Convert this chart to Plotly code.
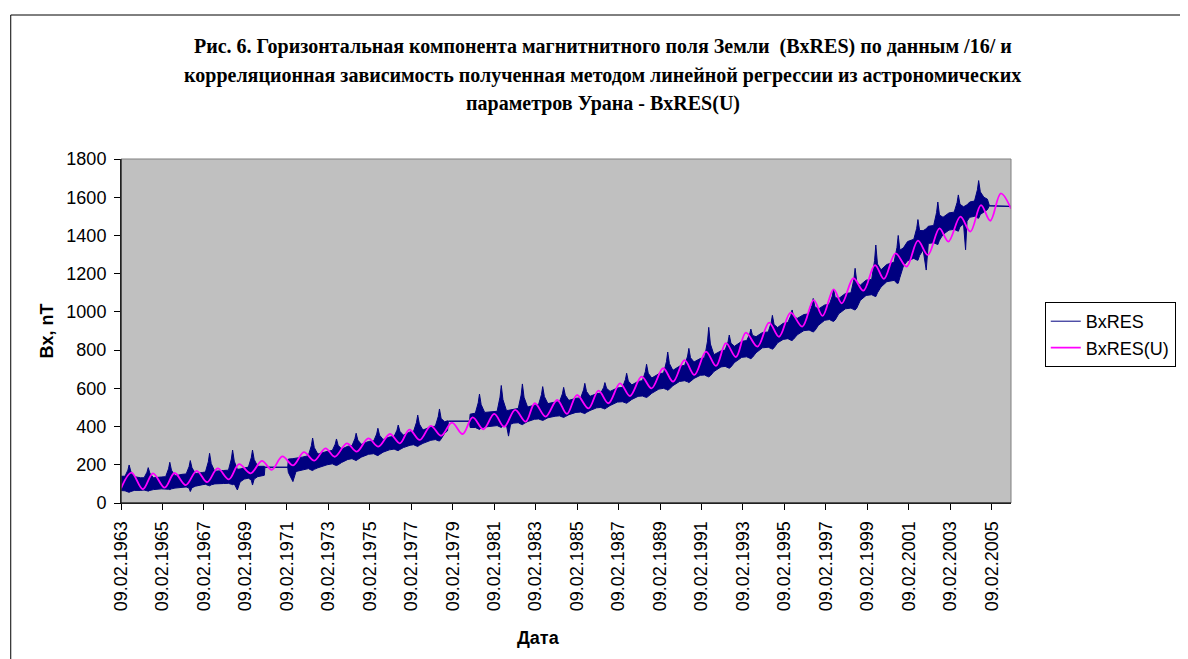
import pandas as pd
import plotly.graph_objects as go

# ---------------- data ----------------
# BxRES: upper / lower edge of the dense daily trace (decimal years, nT)
bx_years = [
    1963.11, 1963.30, 1963.44, 1963.50, 1963.58, 1963.75,
    1964.05, 1964.22, 1964.36, 1964.42, 1964.50, 1964.67,
    1965.05, 1965.26, 1965.40, 1965.46, 1965.54, 1965.71,
    1966.05, 1966.25, 1966.39, 1966.45, 1966.53, 1966.70,
    1967.05, 1967.18, 1967.32, 1967.38, 1967.46, 1967.63,
    1968.05, 1968.29, 1968.43, 1968.49, 1968.57, 1968.72, 1968.85,
    1969.05, 1969.25, 1969.39, 1969.45, 1969.53, 1969.70,
    1970.02, 1970.05, 1971.15,
    1971.18, 1971.40, 1971.55, 1971.85,
    1972.05, 1972.15, 1972.29, 1972.35, 1972.43, 1972.60,
    1973.05, 1973.30, 1973.44, 1973.50, 1973.58, 1973.75,
    1974.05, 1974.25, 1974.39, 1974.45, 1974.53, 1974.70,
    1975.05, 1975.30, 1975.44, 1975.50, 1975.58, 1975.75,
    1976.05, 1976.28, 1976.42, 1976.48, 1976.56, 1976.73,
    1977.05, 1977.22, 1977.36, 1977.42, 1977.50, 1977.67,
    1978.05, 1978.27, 1978.41, 1978.47, 1978.55, 1978.72, 1978.86, 1978.90, 1979.92,
    1979.95, 1980.20, 1980.34, 1980.40, 1980.48, 1980.65, 1980.85,
    1981.05, 1981.25, 1981.39, 1981.45, 1981.53, 1981.70, 1981.80, 1981.90,
    1982.05, 1982.27, 1982.41, 1982.47, 1982.55, 1982.72,
    1983.05, 1983.25, 1983.39, 1983.45, 1983.53, 1983.70,
    1984.05, 1984.26, 1984.40, 1984.46, 1984.54, 1984.71,
    1985.05, 1985.28, 1985.42, 1985.48, 1985.56, 1985.73,
    1986.05, 1986.25, 1986.39, 1986.45, 1986.53, 1986.70,
    1987.05, 1987.30, 1987.44, 1987.50, 1987.58, 1987.75,
    1988.05, 1988.26, 1988.40, 1988.46, 1988.54, 1988.71,
    1989.05, 1989.28, 1989.42, 1989.48, 1989.56, 1989.73,
    1990.05, 1990.30, 1990.44, 1990.50, 1990.58, 1990.75,
    1991.05, 1991.26, 1991.40, 1991.46, 1991.54, 1991.71,
    1992.05, 1992.25, 1992.39, 1992.45, 1992.53, 1992.70,
    1993.05, 1993.29, 1993.43, 1993.49, 1993.57, 1993.74,
    1994.05, 1994.33, 1994.47, 1994.53, 1994.61, 1994.78,
    1995.05, 1995.28, 1995.42, 1995.48, 1995.56, 1995.73,
    1996.05, 1996.30, 1996.44, 1996.50, 1996.58, 1996.75,
    1997.05, 1997.28, 1997.42, 1997.48, 1997.56, 1997.73,
    1998.05, 1998.32, 1998.46, 1998.52, 1998.60, 1998.77,
    1999.05, 1999.32, 1999.46, 1999.52, 1999.60, 1999.77,
    2000.05, 2000.40, 2000.54, 2000.60, 2000.68, 2000.85,
    2001.05, 2001.35, 2001.49, 2001.55, 2001.63, 2001.80, 2001.95,
    2002.05, 2002.31, 2002.45, 2002.51, 2002.59, 2002.76,
    2003.05, 2003.30, 2003.44, 2003.50, 2003.58, 2003.75, 2003.85, 2003.92,
    2004.05, 2004.28, 2004.42, 2004.48, 2004.56, 2004.73, 2004.90, 2004.97, 2005.00, 2006.04,
]
bx_upper = [
    140, 140, 172, 199, 166, 138,
    132, 132, 161, 185, 156, 132,
    136, 138, 179, 213, 172, 142,
    150, 152, 190, 222, 184, 154,
    160, 162, 216, 260, 206, 166,
    170, 172, 230, 277, 219, 176, 178,
    185, 188, 237, 277, 228, 192,
    192, 187, 187,
    230, 232, 234, 240,
    245, 250, 300, 340, 290, 256,
    270, 275, 308, 335, 302, 282,
    297, 300, 336, 365, 329, 307,
    322, 325, 361, 391, 355, 332,
    345, 348, 381, 408, 375, 355,
    372, 375, 422, 460, 413, 382,
    398, 402, 452, 492, 442, 425, 430, 428, 428,
    465, 470, 525, 570, 515, 474, 476,
    478, 480, 554, 615, 541, 484, 485, 488,
    492, 495, 565, 623, 553, 502,
    512, 515, 567, 609, 557, 520,
    528, 530, 571, 605, 564, 537,
    548, 550, 592, 626, 584, 558,
    572, 575, 605, 630, 600, 584,
    602, 605, 646, 679, 638, 618,
    636, 640, 687, 726, 679, 654,
    676, 680, 740, 790, 730, 694,
    716, 720, 769, 809, 760, 738,
    756, 760, 847, 919, 832, 776,
    796, 800, 843, 879, 836, 820,
    846, 850, 883, 910, 877, 870,
    892, 895, 943, 982, 934, 918,
    940, 945, 981, 1010, 974, 966,
    986, 990, 1034, 1070, 1026, 1015,
    1036, 1040, 1083, 1118, 1075, 1070,
    1096, 1100, 1170, 1228, 1158, 1140,
    1166, 1170, 1269, 1350, 1251, 1220,
    1248, 1260, 1337, 1400, 1323, 1335,
    1368, 1380, 1437, 1483, 1426, 1425, 1435,
    1448, 1452, 1520, 1575, 1507, 1495,
    1518, 1522, 1572, 1612, 1563, 1550, 1555, 1560,
    1575, 1580, 1639, 1687, 1628, 1600, 1590, 1560, 1555, 1552,
]
bx_lower = [
    65, 64, 58, 56, 60, 66,
    66, 68, 64, 62, 66, 70,
    74, 75, 72, 70, 74, 78,
    82, 84, 78, 60, 80, 88,
    96, 98, 92, 90, 95, 100,
    102, 103, 98, 96, 100, 68, 110,
    125, 130, 120, 94, 125, 138,
    145, 187, 187,
    160, 112, 165, 172,
    178, 180, 172, 170, 176, 184,
    200, 205, 198, 196, 200, 212,
    228, 232, 225, 222, 228, 240,
    255, 258, 250, 248, 254, 266,
    278, 282, 276, 274, 280, 290,
    302, 305, 298, 296, 302, 312,
    328, 332, 326, 324, 335, 365, 378, 428, 428,
    395, 395, 388, 385, 392, 398, 400,
    402, 405, 398, 395, 402, 408, 350, 412,
    418, 420, 412, 410, 416, 426,
    438, 440, 434, 432, 436, 446,
    454, 456, 450, 448, 452, 462,
    474, 476, 470, 468, 474, 484,
    498, 500, 494, 492, 498, 510,
    528, 530, 524, 522, 528, 542,
    558, 560, 554, 552, 558, 574,
    596, 600, 594, 590, 596, 614,
    636, 640, 634, 630, 636, 652,
    668, 670, 662, 660, 666, 688,
    712, 715, 708, 705, 712, 735,
    762, 765, 758, 755, 762, 786,
    812, 815, 808, 805, 812, 838,
    856, 860, 852, 850, 858, 880,
    902, 905, 898, 895, 902, 930,
    956, 960, 952, 950, 958, 990,
    1016, 1020, 1012, 1010, 1020, 1060,
    1086, 1090, 1082, 1080, 1100, 1130,
    1158, 1165, 1150, 1150, 1180, 1240,
    1268, 1280, 1272, 1270, 1295, 1325, 1219,
    1358, 1362, 1355, 1352, 1375, 1405,
    1428, 1432, 1425, 1422, 1445, 1460, 1325, 1475,
    1495, 1500, 1492, 1490, 1510, 1525, 1535, 1550, 1555, 1552,
]

# BxRES(U): regression curve, turning points (decimal years, nT)
u_years = [
    1963.11, 1963.61, 1964.16, 1964.65, 1965.21, 1965.69, 1966.23, 1966.76,
    1967.26, 1967.77, 1968.31, 1968.80, 1969.36, 1969.90, 1970.38, 1970.89,
    1971.41, 1971.93, 1972.43, 1972.97, 1973.42, 1974.00, 1974.48, 1975.04,
    1975.52, 1976.08, 1976.56, 1977.02, 1977.52, 1978.05, 1978.55, 1979.07,
    1979.59, 1980.07, 1980.59, 1981.11, 1981.59, 1982.12, 1982.63, 1983.07,
    1983.59, 1984.15, 1984.62, 1985.10, 1985.66, 1986.14, 1986.62, 1987.18,
    1987.66, 1988.22, 1988.70, 1989.26, 1989.74, 1990.29, 1990.77, 1991.33,
    1991.81, 1992.29, 1992.77, 1993.25, 1993.81, 1994.37, 1994.85, 1995.41,
    1995.97, 1996.52, 1996.95, 1997.48, 1997.88, 1998.44, 1998.92, 1999.48,
    1999.91, 2000.47, 2001.00, 2001.55, 2002.03, 2002.59, 2003.02, 2003.60,
    2004.08, 2004.59, 2005.04, 2005.55, 2006.04,
]
u_values = [
    77, 159, 72, 155, 80, 157, 94, 168,
    109, 181, 124, 203, 155, 220, 174, 244,
    197, 266, 222, 286, 242, 312, 269, 338,
    295, 361, 312, 384, 330, 404, 352, 421,
    361, 448, 386, 466, 399, 487, 426, 522,
    452, 539, 466, 565, 495, 588, 522, 626,
    560, 661, 600, 705, 635, 748, 670, 792,
    717, 836, 764, 891, 818, 944, 870, 996,
    923, 1062, 979, 1118, 1045, 1176, 1111, 1245,
    1173, 1306, 1237, 1373, 1298, 1437, 1368, 1498,
    1420, 1559, 1477, 1620, 1540,
]

x_tick_labels = [
    "09.02.1963", "09.02.1965", "09.02.1967", "09.02.1969", "09.02.1971",
    "09.02.1973", "09.02.1975", "09.02.1977", "09.02.1979", "09.02.1981",
    "09.02.1983", "09.02.1985", "09.02.1987", "09.02.1989", "09.02.1991",
    "09.02.1993", "09.02.1995", "09.02.1997", "09.02.1999", "09.02.2001",
    "09.02.2003", "09.02.2005",
]
y_ticks = [0, 200, 400, 600, 800, 1000, 1200, 1400, 1600, 1800]

title_lines = [
    "Рис. 6. Горизонтальная компонента магнитнитного поля Земли  (BxRES) по данным /16/ и",
    "корреляционная зависимость полученная методом линейной регрессии из астрономических",
    "параметров Урана - BxRES(U)",
]


# ---------------- helpers ----------------
def dec_to_date(y):
    yr = int(y)
    start = pd.Timestamp(year=yr, month=1, day=1)
    end = pd.Timestamp(year=yr + 1, month=1, day=1)
    return start + (end - start) * (y - yr)


bx_dates = [dec_to_date(v) for v in bx_years]
u_dates = [dec_to_date(v) for v in u_years]
tick_vals = [pd.to_datetime(s, format="%d.%m.%Y") for s in x_tick_labels]

NAVY = "#000080"
PINK = "#FF00FF"
SANS = "Liberation Sans, Arial, sans-serif"
SERIF = "Liberation Serif, Times New Roman, serif"

OFF = 8  # the page body margin shifts the figure by 8 px
W, H = 1188 - OFF, 659 - OFF
L, R, T, B = 121 - OFF, 1017 - OFF, 159 - OFF, 503 - OFF  # plot area in figure px
pw, ph = R - L, B - T


def px(xref_pix):
    return (xref_pix - OFF - L) / pw


def py(yref_pix):
    return (B - (yref_pix - OFF)) / ph


fig = go.Figure()

fig.add_trace(go.Scatter(
    x=bx_dates, y=bx_upper, mode="lines", name="BxRES",
    line=dict(color=NAVY, width=1), showlegend=True,
))
fig.add_trace(go.Scatter(
    x=bx_dates, y=bx_lower, mode="lines", name="BxRES",
    line=dict(color=NAVY, width=1), fill="tonexty", fillcolor=NAVY,
    showlegend=False,
))
fig.add_trace(go.Scatter(
    x=u_dates, y=u_values, mode="lines", name="BxRES(U)",
    line=dict(color=PINK, width=1.8, shape="spline", smoothing=1.0),
))

fig.update_layout(
    width=W, height=H, autosize=False,
    margin=dict(l=L, r=W - R, t=T, b=H - B),
    paper_bgcolor="white",
    plot_bgcolor="#C0C0C0",
    font=dict(family=SANS, size=18, color="black"),
    showlegend=True,
    legend=dict(
        x=px(1051), y=py(302), xanchor="left", yanchor="top",
        bgcolor="white", bordercolor="black", borderwidth=1,
        font=dict(family=SANS, size=18, color="black"),
        tracegroupgap=0, traceorder="normal",
    ),
    xaxis=dict(
        type="date",
        range=[pd.Timestamp("1963-02-09"), dec_to_date(2006.04)],
        tickvals=tick_vals, ticktext=x_tick_labels, tickangle=-90,
        ticks="outside", ticklen=6, tickcolor="black",
        ticklabelstandoff=4,
        showline=True, linecolor="black", linewidth=1,
        showgrid=False, zeroline=False,
        tickfont=dict(family=SANS, size=18, color="black"),
    ),
    yaxis=dict(
        range=[0, 1800], tickvals=y_ticks,
        ticks="outside", ticklen=6, tickcolor="black",
        ticklabelstandoff=4,
        showline=True, linecolor="black", linewidth=1,
        showgrid=False, zeroline=False,
        tickfont=dict(family=SANS, size=18, color="black"),
    ),
)

# plot-area frame (grey) and outer chart border (black)
fig.add_shape(type="rect", xref="paper", yref="paper", x0=0, x1=1, y0=0, y1=1,
              line=dict(color="#808080", width=1), fillcolor="rgba(0,0,0,0)")
fig.add_shape(type="rect", xref="paper", yref="paper",
              x0=px(10), x1=px(1210), y0=py(680), y1=py(15),
              line=dict(color="black", width=1), fillcolor="rgba(0,0,0,0)")
# black axes over the grey frame on left and bottom
fig.add_shape(type="line", xref="paper", yref="paper", x0=0, x1=0, y0=0, y1=1,
              line=dict(color="black", width=1))
fig.add_shape(type="line", xref="paper", yref="paper", x0=0, x1=1, y0=0, y1=0,
              line=dict(color="black", width=1))

# title, three centred lines
for line, ypix in zip(title_lines, [46, 75, 104]):
    fig.add_annotation(
        text="<b>" + line + "</b>", xref="paper", yref="paper",
        x=px(606), y=py(ypix), xanchor="center", yanchor="middle",
        showarrow=False, font=dict(family=SERIF, size=20, color="black"),
    )

# axis titles
fig.add_annotation(text="<b>Bx, nT</b>", xref="paper", yref="paper",
                   x=px(47), y=py(331), xanchor="center", yanchor="middle",
                   textangle=-90, showarrow=False,
                   font=dict(family=SANS, size=18, color="black"))
fig.add_annotation(text="<b>Дата</b>", xref="paper", yref="paper",
                   x=px(541), y=py(638), xanchor="center", yanchor="middle",
                   showarrow=False,
                   font=dict(family=SANS, size=18, color="black"))

fig.write_html("out.html")
